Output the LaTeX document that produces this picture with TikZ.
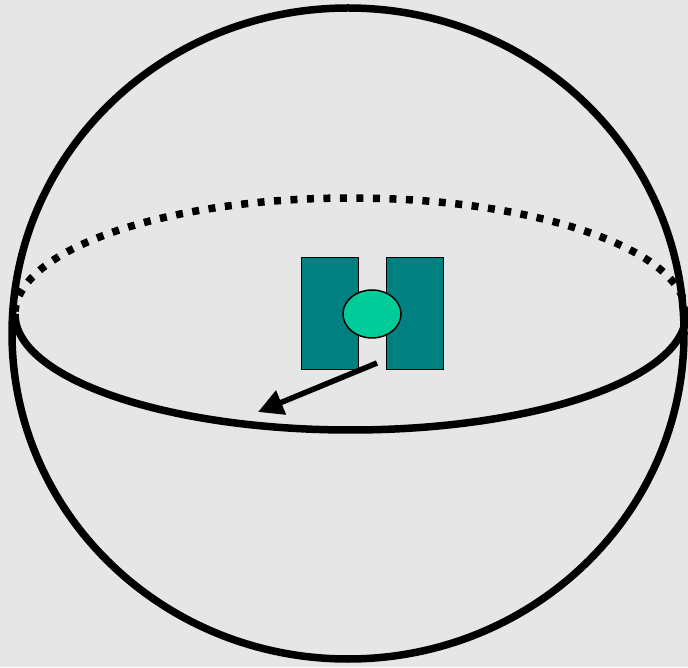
\documentclass[tikz,border=0pt]{standalone}
\usetikzlibrary{arrows.meta,shapes.geometric}
\definecolor{bgcol}{RGB}{230,230,230}
\definecolor{tealbox}{RGB}{0,128,128}
\definecolor{mintball}{RGB}{0,204,153}
\begin{document}
\begin{tikzpicture}[x=1pt,y=1pt,
  sphere/.style={draw=black,line width=7.5pt},
  equatorback/.style={draw=black,line width=7.5pt,line cap=butt,dash pattern=on 7pt off 9.5pt},
  equatorfront/.style={draw=black,line width=7.5pt},
  magnetbox/.style={draw=black,line width=1pt,fill=tealbox,rectangle,inner sep=0pt,minimum width=57pt,minimum height=112pt},
  ball/.style={draw=black,line width=1.5pt,fill=mintball,ellipse,inner sep=0pt,minimum width=58pt,minimum height=48pt},
  moment/.style={draw=black,line width=5.5pt,-{Triangle[length=25pt,width=25pt]}}]
\fill[bgcol] (0,0) rectangle (688,667);
\useasboundingbox (0,0) rectangle (688,667);
% sphere outline
\draw[sphere] (348,333.5) ellipse [x radius=336, y radius=325.5];
% equator
\draw[equatorback] (686,353) arc [start angle=0, end angle=180, x radius=335.5, y radius=116];
\draw[equatorfront] (15,353) arc [start angle=180, end angle=360, x radius=335.5, y radius=116];
% magnet poles
\node[magnetbox] (poleL) at (329.5,353) {};
\node[magnetbox] (poleR) at (415,353) {};
% particle
\node[ball] (atom) at (372,353) {};
% arrow
\coordinate (arrowstart) at (377,304);
\coordinate (arrowend) at (258,255);
\draw[moment] (arrowstart) -- (arrowend);
\end{tikzpicture}
\end{document}
